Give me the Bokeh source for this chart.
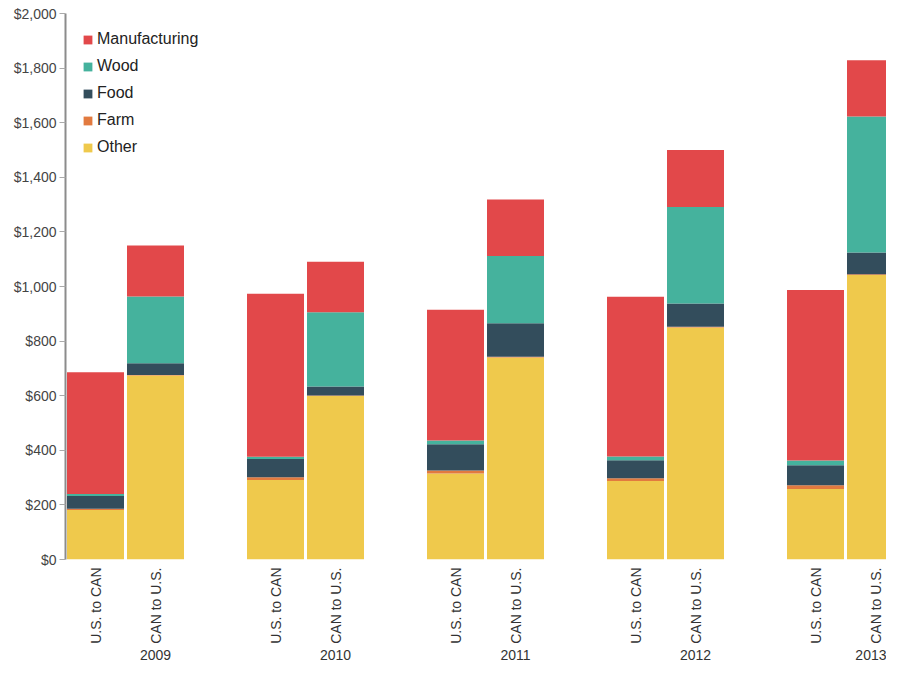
from bokeh.plotting import figure
from bokeh.models import (Range1d, FixedTicker, LinearAxis, NumeralTickFormatter,
                          Legend, LegendItem, ColumnDataSource)
from bokeh.embed import file_html
from bokeh.resources import INLINE
import math

years = ["2009", "2010", "2011", "2012", "2013"]
directions = ["U.S. to CAN", "CAN to U.S."]
series = ["Other", "Farm", "Food", "Wood", "Manufacturing"]
colors = ["#EFC94C", "#E27A3F", "#334D5C", "#45B29D", "#E2484A"]

# U.S. to CAN
other_us = [181, 291, 315, 288, 258]
farm_us = [5, 10, 11, 10, 14]
food_us = [47, 67, 96, 66, 73]
wood_us = [7, 8, 14, 13, 18]
manuf_us = [446, 597, 479, 585, 624]

# CAN to U.S.
other_can = [674, 599, 740, 850, 1042]
farm_can = [2, 2, 3, 3, 3]
food_can = [43, 33, 122, 85, 80]
wood_can = [244, 272, 247, 353, 498]
manuf_can = [187, 185, 207, 209, 206]

y_ticks = list(range(0, 2001, 200))

# build source: 3 slots per year (US, CAN, gap)
xs, labels = [], {}
cols = {s: [] for s in series}
us = dict(zip(series, [other_us, farm_us, food_us, wood_us, manuf_us]))
can = dict(zip(series, [other_can, farm_can, food_can, wood_can, manuf_can]))
year_ticks, year_labels = [], {}
for i, yr in enumerate(years):
    for j, d in enumerate(directions):
        x = 3 * i + j
        xs.append(x)
        labels[x] = d
        src_vals = us if j == 0 else can
        for s in series:
            cols[s].append(src_vals[s][i])
    year_ticks.append(3 * i + 1)
    year_labels[3 * i + 1] = yr

data = {"x": xs}
data.update(cols)
source = ColumnDataSource(data)

W, H = 886, 663
left, top, bottom = 65, 13, 104
slot_px = 60.0
frame_w = W - left
x_end = -0.5 + frame_w / slot_px

p = figure(width=W, height=H, output_backend="svg", toolbar_location=None,
           x_range=Range1d(-0.5, x_end), y_range=Range1d(0, 2000),
           min_border_left=left, min_border_top=top, min_border_right=0,
           min_border_bottom=bottom)
p.outline_line_color = None
p.xgrid.visible = False
p.ygrid.visible = False
p.background_fill_color = "white"

rends = p.vbar_stack(series, x="x", width=0.95, source=source, color=colors,
                     line_color=None)

FONT = "Liberation Sans"

# y axis
ya = p.yaxis[0]
ya.ticker = FixedTicker(ticks=y_ticks)
ya.formatter = NumeralTickFormatter(format="$0,0")
ya.axis_line_color = "#8c8c8c"
ya.axis_line_width = 2
ya.major_tick_line_color = "#aaaaaa"
ya.major_tick_out = 6
ya.major_tick_in = 0
ya.minor_tick_line_color = None
ya.major_label_standoff = 3
ya.major_label_text_font = FONT
ya.major_label_text_font_size = "14px"
ya.major_label_text_color = "#444444"

# x category axis
xa = p.xaxis[0]
xa.ticker = FixedTicker(ticks=xs)
xa.major_label_overrides = labels
xa.axis_line_color = None
xa.major_tick_line_color = None
xa.minor_tick_line_color = None
xa.major_tick_out = 0
xa.major_tick_in = 0
xa.major_label_orientation = math.pi / 2
xa.major_label_standoff = 8
xa.major_label_text_font = FONT
xa.major_label_text_font_size = "14px"
xa.major_label_text_color = "#333333"

# year axis
ya2 = LinearAxis(ticker=FixedTicker(ticks=year_ticks),
                 major_label_overrides=year_labels)
ya2.axis_line_color = None
ya2.major_tick_line_color = None
ya2.minor_tick_line_color = None
ya2.major_tick_out = 0
ya2.major_tick_in = 0
ya2.major_label_standoff = 3
ya2.major_label_text_font = FONT
ya2.major_label_text_font_size = "14px"
ya2.major_label_text_color = "#333333"
p.add_layout(ya2, "below")

items = [LegendItem(label=s, renderers=[r]) for s, r in zip(series, rends)][::-1]
legend = Legend(items=items, location="top_left", orientation="vertical",
                glyph_width=11, glyph_height=11, label_standoff=4,
                spacing=9, padding=0, margin=17,
                border_line_color=None, background_fill_alpha=0,
                label_text_font=FONT, label_text_font_size="16px",
                label_text_color="#222222")
p.add_layout(legend, "center")

open("out.html", "w").write(file_html(p, INLINE))
